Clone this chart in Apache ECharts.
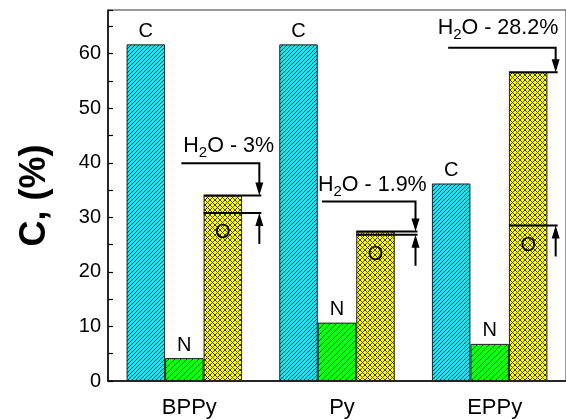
<!DOCTYPE html>
<html><head><meta charset="utf-8">
<script src="https://cdn.jsdelivr.net/npm/echarts@6/dist/echarts.min.js"></script>
<style>html,body{margin:0;padding:0;background:#fff}#c{width:566px;height:419px}</style>
</head><body><div id="c"></div>
<script>
// ---- data ----
const categories = ['BPPy', 'Py', 'EPPy'];
const carbon = [61.7, 61.7, 36.2];
const nitrogen = [4.2, 10.7, 6.8];
const oxygen = [34.0, 27.4, 56.6];          // total O (incl. water)
const oxygenDry = [30.8, 26.8, 28.5];       // O level below water share
const waterLabels = ['3%', '1.9%', '28.2%'];
const waterCalloutLevel = [39.9, 32.9, 61.1];
const yTickLabels = [0, 10, 20, 30, 40, 50, 60];

// ---- layout / style (pixels) ----
const FONT = 'Liberation Sans, Arial, sans-serif';
const barW = 38.5;
const calloutStartDx = [-3, -15, -41.5];
const arrowDx = [75, 78.5, 66];
const textDx = [-1, -19, -52];
const textRise = [17.6, 16.4, 19.9];

function hatch(bg, line, p, cross) {
  const c = document.createElement('canvas');
  c.width = p; c.height = p;
  const g = c.getContext('2d');
  g.fillStyle = bg; g.fillRect(0, 0, p, p);
  g.strokeStyle = line; g.lineWidth = 1;
  g.beginPath();
  g.moveTo(-1, p + 1); g.lineTo(p + 1, -1);
  g.moveTo(-1, 1); g.lineTo(1, -1);
  g.moveTo(p - 1, p + 1); g.lineTo(p + 1, p - 1);
  if (cross) {
    g.moveTo(-1, -1); g.lineTo(p + 1, p + 1);
    g.moveTo(p - 1, -1); g.lineTo(p + 1, 1);
    g.moveTo(-1, p - 1); g.lineTo(1, p + 1);
  }
  g.stroke();
  return c;
}

const chart = echarts.init(document.getElementById('c'));

function barSeries(name, data, pattern) {
  return {
    name, type: 'bar', data, barWidth: barW, barGap: '0%',
    itemStyle: { color: { image: pattern, repeat: 'repeat' }, borderColor: '#222', borderWidth: 1 },
    label: name === 'O' ? { show: false } : {
      show: true, position: 'top', distance: 3, formatter: name,
      color: '#000', fontSize: 20, fontFamily: FONT
    },
    z: 2
  };
}

function arrowHead(x, tipY, dir) { // dir: 1 = pointing down, -1 = pointing up
  return { type: 'polygon', shape: { points: [[x - 4, tipY - dir * 13], [x + 4, tipY - dir * 13], [x, tipY]] }, style: { fill: '#000' } };
}

const option = {
  backgroundColor: '#fff',
  animation: false,
  grid: { left: 108, top: 10, width: 461, height: 373, show: true, borderColor: '#333', borderWidth: 1 },
  xAxis: {
    type: 'category', data: categories,
    axisLine: { lineStyle: { color: '#000', width: 1.5 } },
    axisTick: { show: false },
    axisLabel: { color: '#000', fontSize: 22, fontFamily: FONT, margin: 16, padding: [0, 0, 0, 10] }
  },
  yAxis: {
    type: 'value', min: 0, max: 68, interval: 5,
    name: 'C, (%)', nameLocation: 'middle', nameGap: 55,
    nameTextStyle: { color: '#000', fontSize: 36, fontWeight: 'bold', fontFamily: FONT },
    axisLine: { show: true, lineStyle: { color: '#000', width: 1.5 } },
    axisTick: { show: true, inside: true, length: 5, lineStyle: { color: '#000', width: 1.2 } },
    splitLine: { show: false },
    axisLabel: {
      color: '#000', fontSize: 20, fontFamily: FONT, margin: 7,
      formatter: v => (yTickLabels.indexOf(v) >= 0 ? String(v) : '')
    }
  },
  series: [
    barSeries('C', carbon, hatch('#22e2f0', '#03384a', 4, false)),
    barSeries('N', nitrogen, hatch('#10ff10', '#054d05', 6, false)),
    barSeries('O', oxygen, hatch('#ffff00', '#3c3c00', 5, true)),
    {
      type: 'custom', z: 5,
      data: categories.map((c, i) => [i, oxygen[i], oxygenDry[i], waterCalloutLevel[i]]),
      encode: { x: 0, y: 1 },
      renderItem(params, api) {
        const i = api.value(0);
        const p = api.coord([i, api.value(1)]);
        const cx = p[0], yTop = p[1];
        const yIn = api.coord([i, api.value(2)])[1];
        const yUp = api.coord([i, api.value(3)])[1];
        const oL = cx + barW / 2, oC = cx + barW;
        const ax = cx + arrowDx[i], sx = cx + calloutStartDx[i];
        const ln = { stroke: '#000', lineWidth: 2, fill: null };
        return {
          type: 'group',
          children: [
            { type: 'polyline', shape: { points: [[sx, yUp], [ax, yUp], [ax, yTop - 12]] }, style: ln },
            arrowHead(ax, yTop, 1),
            { type: 'line', shape: { x1: oL, y1: yTop, x2: ax + 2, y2: yTop }, style: ln },
            { type: 'line', shape: { x1: oL, y1: yIn, x2: ax + 2, y2: yIn }, style: ln },
            { type: 'line', shape: { x1: ax, y1: yIn + 31, x2: ax, y2: yIn + 12 }, style: ln },
            arrowHead(ax, yIn, -1),
            {
              type: 'text', x: cx + textDx[i], y: yUp - textRise[i],
              style: {
                text: '{a|H}{b|2}{a|O - ' + waterLabels[i] + '}',
                align: 'left', verticalAlign: 'middle', fill: '#000',
                rich: {
                  a: { fontSize: 21.5, fontFamily: FONT, lineHeight: 28, fill: '#000' },
                  b: { fontSize: 15, fontFamily: FONT, lineHeight: 14, padding: [14, 0, 0, 0], fill: '#000' }
                }
              }
            },
            {
              type: 'text', x: oC, y: yIn + 20,
              style: { text: 'O', fontSize: 20, fontFamily: FONT, align: 'center', verticalAlign: 'middle', fill: '#000' }
            }
          ]
        };
      }
    }
  ]
};
chart.setOption(option);
</script>
</body></html>
